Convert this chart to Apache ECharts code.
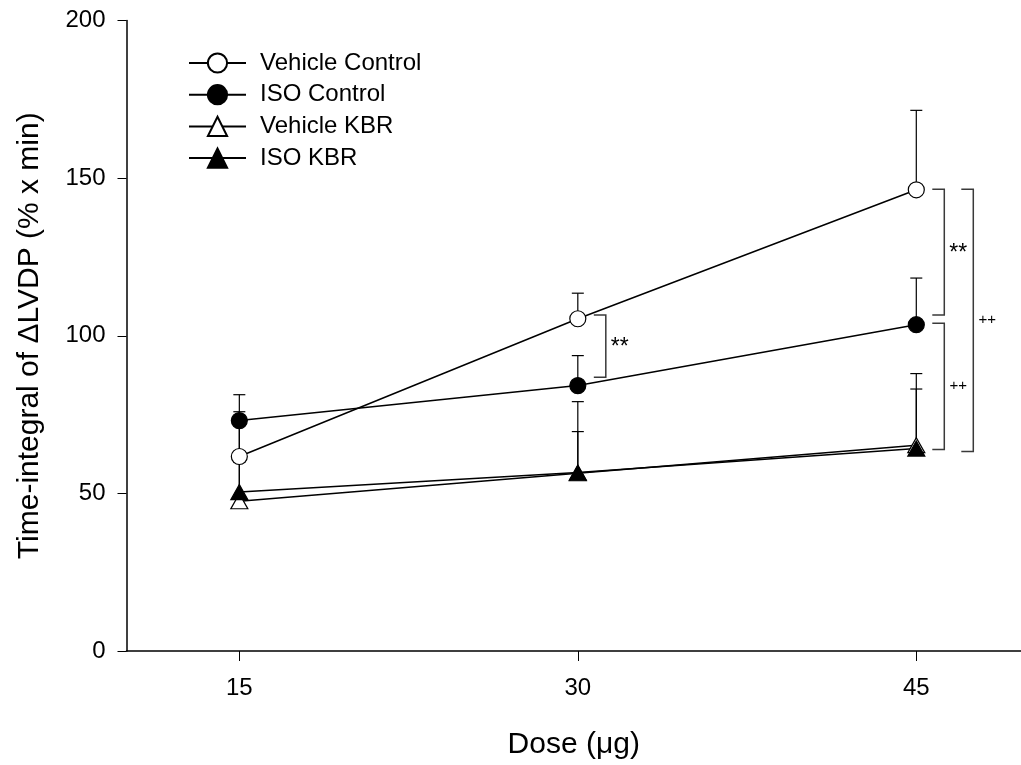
<!DOCTYPE html>
<html>
<head>
<meta charset="utf-8">
<script src="https://cdn.jsdelivr.net/npm/echarts@6/dist/echarts.min.js"></script>
<style>
  html, body { margin: 0; background: #fff; }
  #chart { width: 1021px; height: 765px; }
</style>
</head>
<body>
<div id="chart"></div>
<script>
// doses on the x axis
const doses = [15, 30, 45]

// group means and upper error bar (SE)
const vehicleControl = [61.7, 105.4, 146.3]
const vehicleControlSE = [14.2, 8.1, 25.2]
const isoControl = [73.1, 84.2, 103.5]
const isoControlSE = [8.2, 9.5, 14.8]
const vehicleKBR = [47.5, 56.4, 65.3]
const vehicleKBRSE = [12.3, 22.7, 22.7]
const isoKBR = [50.4, 56.6, 64.2]
const isoKBRSE = [21.6, 13.0, 18.9]

const yTicks = [0, 50, 100, 150, 200]

// significance brackets: dose, upper value, lower value, mark, level
const brackets = [
  [30, 106.6, 86.8, '**', 0],
  [45, 146.5, 106.6, '**', 0],
  [45, 104.0, 63.9, '++', 0],
  [45, 146.5, 63.3, '++', 1]
]

const FONT = 'Liberation Sans, Arial, sans-serif'

const chart = echarts.init(document.getElementById('chart'))

function lineSeries (name, values, symbol, filled) {
  return {
    name: name,
    type: 'line',
    data: doses.map((d, i) => [d, values[i]]),
    symbol: symbol,
    symbolSize: symbol === 'circle' ? 16 : [17, 15],
    showAllSymbols: true,
    lineStyle: { color: '#000', width: 1.5 },
    itemStyle: { color: filled ? '#000' : '#fff', borderColor: '#000', borderWidth: 1.2 },
    emphasis: { disabled: true },
    z: 5
  }
}

function errorSeries (values, se) {
  return {
    type: 'custom',
    data: doses.map((d, i) => [d, values[i], values[i] + se[i]]),
    renderItem: (params, api) => {
      const p0 = api.coord([api.value(0), api.value(1)])
      const p1 = api.coord([api.value(0), api.value(2)])
      const st = { stroke: '#000', lineWidth: 1.2 }
      return {
        type: 'group',
        children: [
          { type: 'line', shape: { x1: p0[0], y1: p0[1], x2: p1[0], y2: p1[1] }, style: st },
          { type: 'line', shape: { x1: p1[0] - 6, y1: p1[1], x2: p1[0] + 6, y2: p1[1] }, style: st }
        ]
      }
    },
    z: 2,
    silent: true
  }
}

const bracketSeries = {
  type: 'custom',
  data: brackets,
  renderItem: (params, api) => {
    const x = api.value(0)
    const lvl = api.value(4)
    const mark = brackets[params.dataIndex][3]
    const top = api.coord([x, api.value(1)])
    const bot = api.coord([x, api.value(2)])
    const x0 = top[0] + (lvl ? 45 : 16)
    const x1 = x0 + 12
    const star = mark === '**'
    return {
      type: 'group',
      children: [
        {
          type: 'polyline',
          shape: { points: [[x0, top[1]], [x1, top[1]], [x1, bot[1]], [x0, bot[1]]] },
          style: { stroke: '#3a3a3a', lineWidth: 1.5, fill: null }
        },
        {
          type: 'text',
          style: {
            x: x1 + 14,
            y: (top[1] + bot[1]) / 2 + (star ? 2 : 0),
            text: mark,
            align: 'center',
            verticalAlign: 'middle',
            fontFamily: FONT,
            fontSize: star ? 23 : 15,
            fill: '#000'
          }
        }
      ]
    }
  },
  silent: true
}

chart.setOption({
  animation: false,
  backgroundColor: '#fff',
  grid: { left: 126.5, right: 0, top: 20.5, bottom: 113 },
  legend: {
    data: ['Vehicle Control', 'ISO Control', 'Vehicle KBR', 'ISO KBR'],
    orient: 'vertical',
    left: 188,
    top: 51,
    padding: 0,
    itemWidth: 57,
    itemHeight: 24,
    itemGap: 7.7,
    selectedMode: false,
    textStyle: { fontFamily: FONT, fontSize: 24, color: '#000', lineHeight: 24, padding: [0, 0, 0, 9] }
  },
  xAxis: {
    type: 'value',
    min: 10,
    max: 49.64,
    name: 'Dose (μg)',
    nameLocation: 'middle',
    nameGap: 79,
    nameTextStyle: { fontFamily: FONT, fontSize: 30, color: '#000' },
    axisLine: { onZero: false, lineStyle: { color: '#000', width: 1.5 } },
    axisTick: { show: true, length: 10, customValues: doses, lineStyle: { color: '#000', width: 1 } },
    axisLabel: {
      fontFamily: FONT, fontSize: 24, color: '#000', margin: 25,
      customValues: doses
    },
    splitLine: { show: false }
  },
  yAxis: {
    type: 'value',
    min: 0,
    max: 200,
    interval: 50,
    name: 'Time-integral of ΔLVDP (% x min)',
    nameLocation: 'middle',
    nameGap: 82,
    nameTextStyle: { fontFamily: FONT, fontSize: 30, color: '#000' },
    axisLine: { show: true, lineStyle: { color: '#000', width: 1.5 } },
    axisTick: { show: true, length: 9, lineStyle: { color: '#000', width: 1 } },
    axisLabel: {
      fontFamily: FONT, fontSize: 24, color: '#000', margin: 21,
      formatter: v => (yTicks.indexOf(v) >= 0 ? String(v) : '')
    },
    splitLine: { show: false }
  },
  series: [
    errorSeries(vehicleControl, vehicleControlSE),
    errorSeries(isoControl, isoControlSE),
    errorSeries(vehicleKBR, vehicleKBRSE),
    errorSeries(isoKBR, isoKBRSE),
    lineSeries('Vehicle Control', vehicleControl, 'circle', false),
    lineSeries('ISO Control', isoControl, 'circle', true),
    lineSeries('Vehicle KBR', vehicleKBR, 'triangle', false),
    lineSeries('ISO KBR', isoKBR, 'triangle', true),
    bracketSeries
  ]
})
</script>
</body>
</html>
